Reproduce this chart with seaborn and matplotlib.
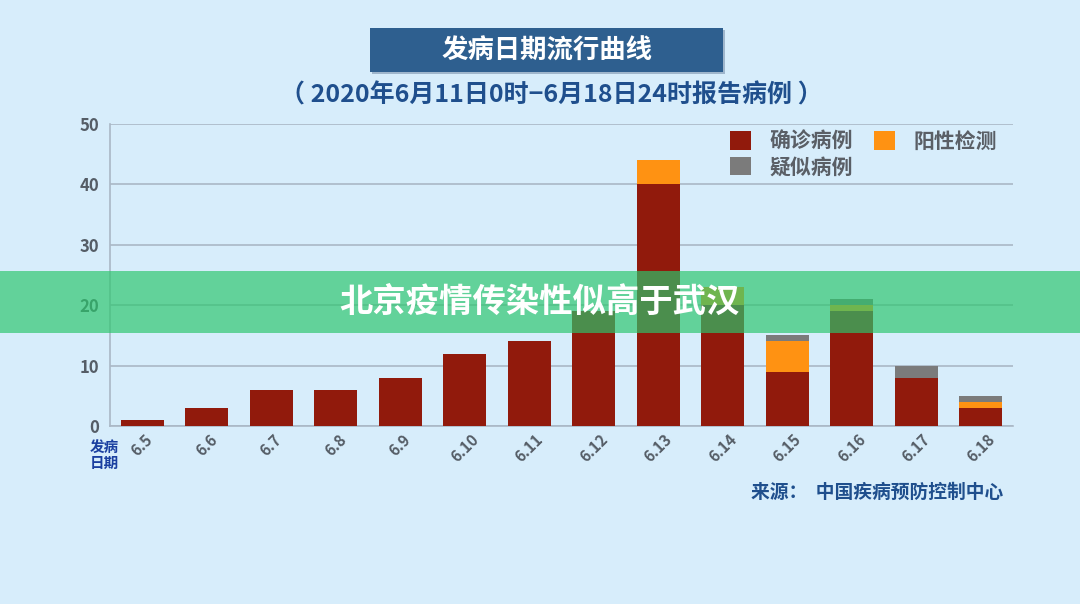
import numpy as np
import pandas as pd
import matplotlib.pyplot as plt
import seaborn as sns
from matplotlib.patches import Rectangle

# 数据
dates = ['6.5', '6.6', '6.7', '6.8', '6.9', '6.10', '6.11',
         '6.12', '6.13', '6.14', '6.15', '6.16', '6.17', '6.18']
confirmed = [1, 3, 6, 6, 8, 12, 14, 19, 40, 20, 9, 19, 8, 3]
positive = [0, 0, 0, 0, 0, 0, 0, 0, 4, 3, 5, 1, 0, 1]
suspected = [0, 0, 0, 0, 0, 0, 0, 0, 0, 0, 1, 1, 2, 1]

df = pd.DataFrame({'date': dates, 'confirmed': confirmed,
                   'positive': positive, 'suspected': suspected})
df['conf_pos'] = df['confirmed'] + df['positive']
df['total'] = df['conf_pos'] + df['suspected']

sns.set_style('white')
plt.rcParams['font.family'] = ['Noto Sans CJK SC', 'DejaVu Sans']

bg = '#d7edfb'
c_conf = '#911a0c'
c_pos = '#ff9212'
c_sus = '#7b7b7b'
navy = '#1f4f8d'
heavy = 'heavy'

fig = plt.figure(figsize=(10.8, 6.04), dpi=100, facecolor=bg)
ax = fig.add_axes([0.1019, 0.2947, 0.8361, 0.5])
ax.set_facecolor(bg)

# 叠加柱：先画总数，再覆盖
for col, c, lab in [('total', c_sus, '疑似病例'), ('conf_pos', c_pos, '阳性检测'),
                    ('confirmed', c_conf, '确诊病例')]:
    sns.barplot(data=df, x='date', y=col, color=c, width=0.67, saturation=1,
                ax=ax, label=lab, zorder=3, linewidth=0, edgecolor=c)

ax.set_xlim(-0.5, 13.5)
ax.set_ylim(0, 50)
ax.set_yticks([0, 10, 20, 30, 40, 50])
ax.grid(axis='y', color='#aab8c6', linewidth=1.2, zorder=0)
for s in ['top', 'right']:
    ax.spines[s].set_visible(False)
for s in ['left', 'bottom']:
    ax.spines[s].set_color('#aab8c6')
    ax.spines[s].set_linewidth(1.2)
ax.tick_params(axis='both', length=0)
ax.set_xlabel('')
ax.set_ylabel('')
for t in ax.get_yticklabels():
    t.set_fontsize(12)
    t.set_fontweight(heavy)
    t.set_color('#555d66')
ax.tick_params(axis='y', pad=8)
ax.set_xticks(range(len(dates)))
ax.set_xticklabels(dates, rotation=45, ha='center', va='top', fontsize=11,
                   color='#555d66', fontweight=heavy)
ax.tick_params(axis='x', pad=4)

# 图例
h, l = ax.get_legend_handles_labels()
order = [l.index('确诊病例'), l.index('疑似病例'), l.index('阳性检测')]
leg = ax.legend([h[i] for i in order], [l[i] for i in order], ncol=2,
                loc='upper right', bbox_to_anchor=(1.003, 1.04), frameon=False,
                handlelength=1.0, handleheight=1.0, columnspacing=1.0,
                handletextpad=0.9, prop={'size': 15, 'weight': heavy},
                labelspacing=0.22)
for t in leg.get_texts():
    t.set_color('#5a5f66')

# 标题框
fig.patches.append(Rectangle((372 / 1080, 1 - 74 / 604), 353 / 1080, 44 / 604,
                             transform=fig.transFigure, facecolor='#9fb6cc',
                             edgecolor='none', zorder=0))
fig.patches.append(Rectangle((370 / 1080, 1 - 72 / 604), 353 / 1080, 44 / 604,
                             transform=fig.transFigure, facecolor='#2e5f8f',
                             edgecolor='none', zorder=1))
fig.text(547 / 1080, 1 - 51 / 604, '发病日期流行曲线', ha='center', va='center',
         fontsize=19, fontweight=heavy, color='white')
fig.text(551 / 1080, 1 - 95 / 604, '（ 2020年6月11日0时−6月18日24时报告病例 ）',
         ha='center', va='center', fontsize=18, fontweight=heavy, color=navy)

fig.text(104 / 1080, 1 - 455 / 604, '发病\n日期', ha='center', va='center',
         fontsize=10.5, fontweight=heavy, color='#1a3fa0', linespacing=1.0)
fig.text(1003 / 1080, 1 - 492 / 604, '来源：  中国疾病预防控制中心', ha='right',
         va='center', fontsize=13.5, fontweight=heavy, color=navy)

# 绿色横幅
fig.patches.append(Rectangle((0, 1 - 333 / 604), 1, 62 / 604,
                             transform=fig.transFigure, facecolor='#2bc66d',
                             alpha=0.68, edgecolor='none', zorder=10))
fig.text(540 / 1080, 1 - 302 / 604, '北京疫情传染性似高于武汉', ha='center',
         va='center', fontsize=24, fontweight=heavy, color='white', zorder=11)

fig.savefig('out.png', dpi=100, facecolor=bg)
